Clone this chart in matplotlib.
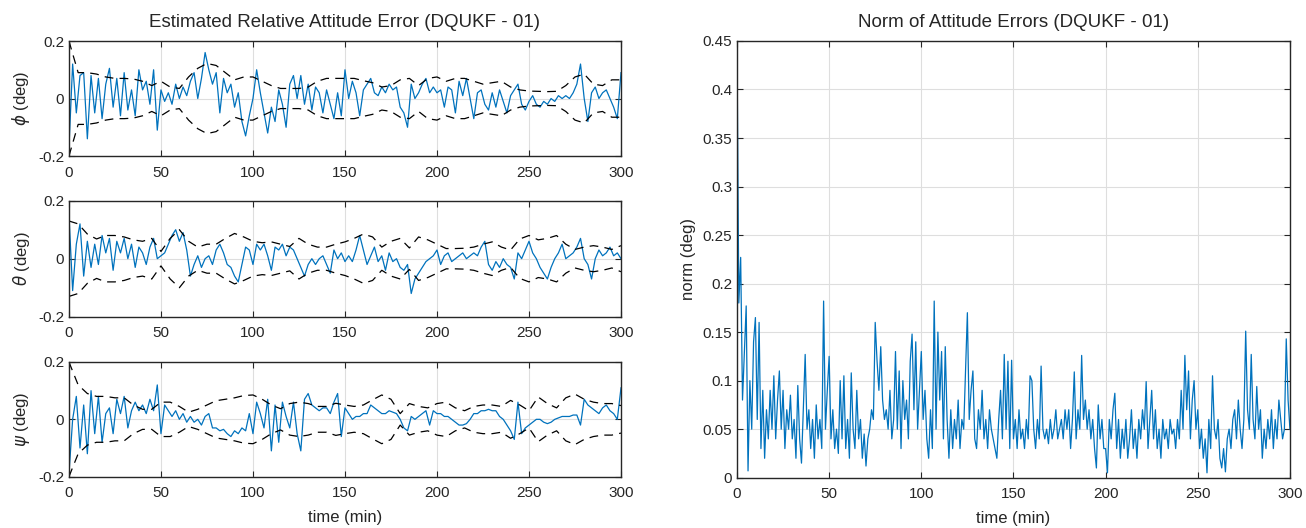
import numpy as np
import matplotlib
matplotlib.use("Agg")
import matplotlib.pyplot as plt

plt.rcParams['font.family'] = ['Liberation Sans', 'DejaVu Sans']
plt.rcParams['axes.unicode_minus'] = False

# ---------------- data ----------------
phi = [-0.17, 0.12, -0.05, 0.08, 0.09, -0.14, 0.08, -0.05, 0.07, -0.07,
       0.05, 0.105, -0.03, 0.07, -0.06, 0.09, -0.04, 0.03, -0.06, 0.1,
       0.03, 0.06, -0.02, 0.1, -0.11, 0.03, -0.01, 0.02, -0.02, 0.05,
       0.0, 0.04, 0.01, 0.06, 0.09, 0.0, 0.07, 0.16, 0.1, 0.05,
       0.09, -0.05, 0.07, 0.02, 0.05, -0.03, 0.02, -0.08, -0.13, -0.06,
       0.0, 0.1, 0.02, -0.05, -0.12, -0.03, -0.08, 0.03, -0.02, -0.1,
       0.05, 0.08, 0.0, 0.08, -0.02, 0.05, -0.04, 0.04, 0.02, -0.05,
       0.03, -0.02, -0.07, 0.02, -0.06, 0.1, 0.0, 0.06, 0.02, -0.06,
       0.03, 0.05, 0.07, 0.02, 0.01, 0.04, 0.02, 0.05, 0.03, 0.04,
       -0.03, -0.05, -0.1, 0.05, 0.0, 0.02, 0.05, 0.07, 0.02, 0.04,
       0.02, 0.03, -0.03, 0.04, 0.03, -0.05, 0.06, 0.01, 0.07, 0.0,
       -0.07, 0.02, 0.03, -0.02, -0.04, 0.02, -0.03, 0.03, -0.01, -0.05,
       0.01, 0.03, 0.05, -0.02, -0.04, -0.01, 0.01, -0.02, -0.03, -0.01,
       -0.02, 0.0, -0.01, 0.01, 0.0, 0.01, 0.0, 0.02, 0.05, 0.12,
       0.0, -0.08, 0.02, 0.04, 0.0, 0.02, 0.03, 0.0, -0.03, -0.07,
       0.09]

theta = [0.15, -0.11, 0.05, 0.12, -0.06, 0.06, -0.03, 0.05, -0.02, 0.08,
         0.02, 0.07, -0.04, 0.06, 0.02, 0.07, 0.0, 0.05, -0.03, 0.04,
         0.02, -0.02, 0.04, 0.07, 0.0, 0.01, 0.02, 0.05, 0.08, 0.1,
         0.06, 0.09, 0.03, -0.06, -0.02, 0.01, -0.03, 0.0, 0.01, -0.02,
         0.03, 0.05, 0.02, -0.02, -0.03, -0.06, -0.08, -0.02, 0.04, 0.03,
         -0.02, 0.05, 0.03, 0.05, 0.01, -0.04, 0.04, 0.03, 0.05, 0.01,
         0.04, 0.03, 0.0, -0.03, -0.06, -0.02, 0.0, -0.02, 0.0, 0.01,
         -0.02, -0.05, 0.03, 0.0, 0.02, -0.01, 0.01, -0.01, 0.03, 0.08,
         0.03, -0.02, 0.01, 0.04, -0.01, 0.01, -0.04, 0.02, -0.01, 0.0,
         -0.03, -0.04, -0.02, -0.12, -0.07, -0.05, -0.03, -0.01, 0.0, 0.01,
         0.03, -0.02, 0.01, 0.02, -0.01, 0.0, 0.01, 0.02, 0.0, 0.01,
         0.02, 0.01, 0.04, 0.06, -0.02, -0.04, -0.01, -0.03, 0.0, -0.02,
         -0.03, -0.07, 0.02, 0.0, 0.03, 0.06, 0.02, 0.0, -0.03, -0.05,
         -0.07, -0.03, 0.0, 0.02, 0.05, 0.0, 0.01, 0.02, 0.04, 0.07,
         0.0, -0.02, -0.07, 0.0, 0.03, 0.01, 0.02, 0.04, 0.01, 0.02,
         0.0]

psi = [-0.19, 0.0, 0.08, -0.1, 0.05, -0.12, 0.1, -0.05, 0.08, -0.08,
       0.02, 0.04, -0.05, 0.07, 0.02, 0.08, -0.03, 0.03, 0.06, 0.03,
       0.05, 0.02, 0.07, 0.03, 0.12, -0.05, 0.05, 0.03, 0.01, 0.03,
       0.0, 0.02, -0.01, 0.01, -0.01, 0.0, -0.02, 0.01, 0.02, -0.03,
       -0.03, -0.04, -0.035, -0.05, -0.06, -0.04, -0.05, -0.03, -0.04, 0.02,
       -0.05, 0.06, 0.02, -0.03, 0.07, -0.11, 0.05, -0.08, 0.06, 0.01,
       -0.03, 0.06, -0.05, -0.11, 0.07, 0.09, 0.05, 0.04, 0.03, 0.04,
       0.04, 0.02, 0.06, 0.09, -0.06, 0.04, 0.02, 0.0, 0.01, 0.01,
       0.02, 0.02, 0.05, 0.04, 0.03, 0.02, 0.02, 0.03, 0.025, 0.02,
       0.0, -0.03, -0.04, 0.01, 0.0, 0.01, 0.02, 0.03, -0.02, 0.03,
       0.02, 0.02, 0.01, 0.01, 0.0, -0.01, -0.02, -0.02, -0.015, 0.0,
       0.02, 0.02, 0.03, 0.03, 0.035, 0.03, 0.03, 0.01, 0.0, -0.02,
       -0.04, -0.07, 0.06, -0.05, -0.03, -0.02, -0.01, 0.0, 0.0, -0.01,
       -0.015, -0.01, 0.0, 0.005, 0.01, 0.01, 0.01, 0.015, 0.015, -0.02,
       0.07, 0.05, 0.04, 0.03, 0.02, 0.04, 0.05, 0.03, 0.02, 0.0,
       0.11]

# 3-sigma bounds (symmetric), every 5 min
bnd_phi = [0.20, 0.09, 0.09, 0.085, 0.075, 0.07, 0.07, 0.068, 0.06, 0.045,
           0.06, 0.04, 0.035, 0.075, 0.105, 0.122, 0.115, 0.09, 0.065, 0.075,
           0.075, 0.06, 0.045, 0.035, 0.035, 0.035, 0.04, 0.06, 0.07, 0.07,
           0.07, 0.07, 0.062, 0.055, 0.04, 0.045, 0.065, 0.07, 0.045, 0.07,
           0.075, 0.06, 0.07, 0.07, 0.06, 0.05, 0.055, 0.06, 0.04, 0.03,
           0.026, 0.025, 0.024, 0.025, 0.045, 0.075, 0.085, 0.05, 0.045, 0.065,
           0.065]
bnd_theta = [0.13, 0.12, 0.085, 0.068, 0.08, 0.08, 0.075, 0.065, 0.06, 0.07,
             0.025, 0.07, 0.1, 0.06, 0.04, 0.05, 0.05, 0.07, 0.087, 0.075,
             0.06, 0.055, 0.058, 0.05, 0.042, 0.07, 0.05, 0.04, 0.04, 0.05,
             0.058, 0.07, 0.085, 0.075, 0.04, 0.06, 0.07, 0.037, 0.075, 0.065,
             0.05, 0.035, 0.035, 0.036, 0.04, 0.05, 0.058, 0.04, 0.03, 0.068,
             0.08, 0.065, 0.07, 0.08, 0.05, 0.032, 0.04, 0.045, 0.04, 0.032,
             0.045]
bnd_psi = [0.2, 0.12, 0.09, 0.08, 0.08, 0.075, 0.075, 0.05, 0.035, 0.035,
           0.06, 0.06, 0.045, 0.025, 0.035, 0.05, 0.065, 0.07, 0.075, 0.083,
           0.085, 0.07, 0.05, 0.037, 0.055, 0.06, 0.055, 0.045, 0.045, 0.056,
           0.05, 0.045, 0.05, 0.068, 0.085, 0.07, 0.02, 0.055, 0.045, 0.04,
           0.055, 0.06, 0.04, 0.03, 0.045, 0.05, 0.05, 0.045, 0.066, 0.05,
           0.03, 0.078, 0.055, 0.04, 0.075, 0.088, 0.07, 0.06, 0.055, 0.055,
           0.048]

# norm of attitude errors, every 1 min
norm_err = [0.45, 0.18, 0.227, 0.08, 0.13, 0.177, 0.007, 0.10, 0.05, 0.14,
            0.165, 0.06, 0.16, 0.03, 0.09, 0.02, 0.07, 0.04, 0.09, 0.05,
            0.105, 0.04, 0.08, 0.11, 0.05, 0.09, 0.03, 0.07, 0.05, 0.085,
            0.04, 0.06, 0.02, 0.095, 0.04, 0.015, 0.07, 0.127, 0.05, 0.07,
            0.03, 0.06, 0.02, 0.075, 0.04, 0.06, 0.03, 0.182, 0.05, 0.09,
            0.125, 0.04, 0.07, 0.03, 0.05, 0.025, 0.10, 0.04, 0.105, 0.03,
            0.06, 0.02, 0.108, 0.05, 0.03, 0.09, 0.04, 0.06, 0.02, 0.045,
            0.012, 0.04, 0.05, 0.07, 0.06, 0.16, 0.12, 0.09, 0.135, 0.08,
            0.06, 0.07, 0.05, 0.09, 0.04, 0.06, 0.13, 0.05, 0.11, 0.03,
            0.10, 0.06, 0.08, 0.04, 0.12, 0.148, 0.07, 0.14, 0.05, 0.09,
            0.13, 0.06, 0.09, 0.04, 0.02, 0.07, 0.03, 0.182, 0.05, 0.15,
            0.08, 0.13, 0.04, 0.135, 0.06, 0.02, 0.07, 0.03, 0.06, 0.04,
            0.08, 0.03, 0.06, 0.05, 0.11, 0.17, 0.06, 0.09, 0.11, 0.04,
            0.03, 0.07, 0.05, 0.09, 0.04, 0.06, 0.03, 0.07, 0.05, 0.04,
            0.03, 0.02, 0.06, 0.09, 0.04, 0.127, 0.05, 0.12, 0.03, 0.121,
            0.04, 0.06, 0.03, 0.07, 0.04, 0.05, 0.03, 0.06, 0.04, 0.105,
            0.10, 0.05, 0.03, 0.06, 0.04, 0.115, 0.05, 0.04, 0.05, 0.035,
            0.06, 0.04, 0.05, 0.07, 0.04, 0.05, 0.06, 0.04, 0.07, 0.05,
            0.07, 0.03, 0.06, 0.109, 0.04, 0.07, 0.05, 0.126, 0.06, 0.08,
            0.05, 0.07, 0.04, 0.06, 0.03, 0.01, 0.075, 0.04, 0.06, 0.03,
            0.03, 0.005, 0.06, 0.04, 0.07, 0.087, 0.03, 0.06, 0.02, 0.05,
            0.03, 0.06, 0.02, 0.04, 0.07, 0.03, 0.05, 0.02, 0.06, 0.04,
            0.07, 0.05, 0.099, 0.03, 0.06, 0.09, 0.04, 0.07, 0.03, 0.05,
            0.02, 0.06, 0.04, 0.05, 0.03, 0.06, 0.045, 0.05, 0.03, 0.06,
            0.04, 0.09, 0.05, 0.126, 0.07, 0.11, 0.04, 0.08, 0.10, 0.05,
            0.07, 0.03, 0.05, 0.02, 0.04, 0.005, 0.06, 0.03, 0.105, 0.05,
            0.04, 0.06, 0.02, 0.01, 0.03, 0.006, 0.04, 0.05, 0.03, 0.06,
            0.07, 0.04, 0.08, 0.05, 0.03, 0.06, 0.151, 0.07, 0.05, 0.127,
            0.06, 0.04, 0.094, 0.05, 0.07, 0.02, 0.05, 0.03, 0.06, 0.04,
            0.07, 0.03, 0.06, 0.04, 0.08, 0.06, 0.04, 0.05, 0.143, 0.08,
            0.05]

titles = ["Estimated Relative Attitude Error (DQUKF - 01)",
          "Norm of Attitude Errors (DQUKF - 01)"]
ylabels = [r"$\phi$ (deg)", r"$\theta$ (deg)", r"$\psi$ (deg)"]
xlabel = "time (min)"
x_ticks = [0, 50, 100, 150, 200, 250, 300]
left_yticks = [-0.2, 0, 0.2]
left_ylabels = ["-0.2", "0", "0.2"]
right_yticks = [0, 0.05, 0.1, 0.15, 0.2, 0.25, 0.3, 0.35, 0.4, 0.45]
right_ylabels = ["0", "0.05", "0.1", "0.15", "0.2", "0.25", "0.3", "0.35", "0.4", "0.45"]

# ---------------- styling ----------------
BLUE = "#0072BD"
AX_COL = "#262626"
FS = 11
TFS = 13.5
LFS = 12

fig = plt.figure(figsize=(13.06, 5.28), dpi=100)


def style(ax):
    for s in ax.spines.values():
        s.set_color(AX_COL)
        s.set_linewidth(1.0)
    ax.tick_params(direction="in", top=True, right=True, length=4,
                   width=0.8, colors=AX_COL, labelsize=FS, labelcolor=AX_COL)
    ax.tick_params(axis="x", pad=7)
    ax.grid(True, color="#dedede", linewidth=0.8)
    ax.set_axisbelow(True)


left_pos = [[0.0528, 0.7045, 0.4227, 0.2178],
            [0.0528, 0.4002, 0.4227, 0.2197],
            [0.0528, 0.0972, 0.4227, 0.2172]]
series = [phi, theta, psi]
bounds = [bnd_phi, bnd_theta, bnd_psi]

for i in range(3):
    ax = fig.add_axes(left_pos[i])
    y = np.array(series[i])
    t = np.linspace(0, 300, len(y))
    b = np.array(bounds[i])
    tb = np.linspace(0, 300, len(b))
    ax.plot(t, y, color=BLUE, linewidth=0.9)
    ax.plot(tb, b, color="k", linestyle=(0, (7, 5)), linewidth=0.9)
    ax.plot(tb, -b, color="k", linestyle=(0, (7, 5)), linewidth=0.9)
    ax.set_xlim(0, 300)
    ax.set_ylim(-0.2, 0.2)
    ax.set_xticks(x_ticks)
    ax.set_xticklabels([str(v) for v in x_ticks])
    ax.set_yticks(left_yticks)
    ax.set_yticklabels(left_ylabels)
    ax.set_ylabel(ylabels[i], fontsize=LFS, color=AX_COL, labelpad=4)
    style(ax)
    if i == 0:
        ax.set_title(titles[0], fontsize=TFS, color=AX_COL, pad=10)
    if i == 2:
        ax.set_xlabel(xlabel, fontsize=LFS, color=AX_COL, labelpad=7)

axr = fig.add_axes([0.5643, 0.0953, 0.4234, 0.8271])
yn = np.array(norm_err)
tn = np.linspace(0, 300, len(yn))
axr.plot(tn, yn, color=BLUE, linewidth=0.9)
axr.set_xlim(0, 300)
axr.set_ylim(0, 0.45)
axr.set_xticks(x_ticks)
axr.set_xticklabels([str(v) for v in x_ticks])
axr.set_yticks(right_yticks)
axr.set_yticklabels(right_ylabels)
axr.set_ylabel("norm (deg)", fontsize=LFS, color=AX_COL, labelpad=5)
axr.set_xlabel(xlabel, fontsize=LFS, color=AX_COL, labelpad=7)
axr.set_title(titles[1], fontsize=TFS, color=AX_COL, pad=10)
style(axr)

fig.savefig("out.png", dpi=100)
